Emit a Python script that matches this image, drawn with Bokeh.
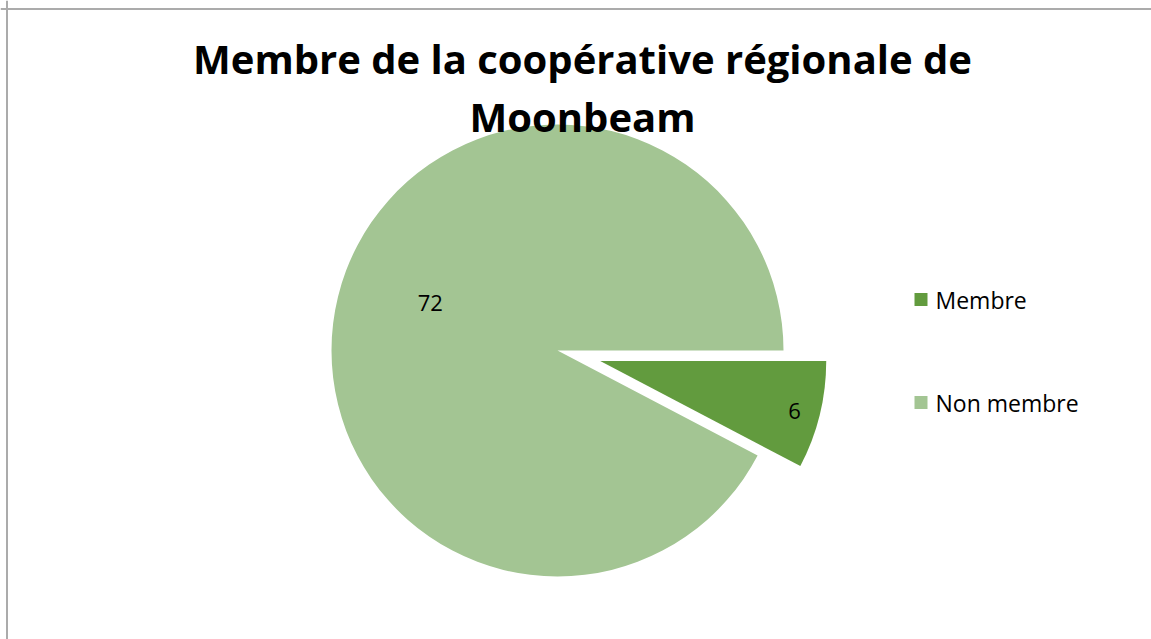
import math
from bokeh.plotting import figure
from bokeh.models import Range1d, Span
from bokeh.core.properties import value
from bokeh.embed import file_html
from bokeh.resources import INLINE

# ---- data ----
title_lines = ["Membre de la coopérative régionale de", "Moonbeam"]
categories = ["Membre", "Non membre"]
values = [6, 72]
colors = ["#629B3E", "#A3C593"]

# ---- layout (figure data units == screen pixels) ----
W, H = 1151, 639
cx, cy, R = 557, 289, 226
explode = [44, 0]
start_deg = 0.0

p = figure(width=W, height=H, output_backend="svg", toolbar_location=None,
           x_range=Range1d(0, W), y_range=Range1d(0, H), min_border=0)
p.axis.visible = False
p.grid.visible = False
p.outline_line_color = None
p.background_fill_color = "white"
p.border_fill_color = "white"

# chart-area border (left and top visible in reference)
p.add_layout(Span(location=6.5, dimension="height", line_color="#ABABAB", line_width=2))
p.add_layout(Span(location=H - 8.5, dimension="width", line_color="#ABABAB", line_width=2))

total = sum(values)
cum = 0.0
label_pos = []
for i, v in enumerate(values):
    s = math.radians(start_deg) - cum / total * 2 * math.pi
    e = math.radians(start_deg) - (cum + v) / total * 2 * math.pi
    mid = (s + e) / 2
    ox = cx + explode[i] * math.cos(mid)
    oy = cy + explode[i] * math.sin(mid)
    p.wedge(x=[ox], y=[oy], radius=R, start_angle=[e], end_angle=[s],
            fill_color=colors[i], line_color=None)
    label_pos.append((ox, oy, mid))
    cum += v

font = value("Open Sans")
# data labels
ox, oy, mid = label_pos[0]
p.text(x=[ox + 0.885 * R * math.cos(mid)], y=[oy + 0.885 * R * math.sin(mid) - 2],
       text=[str(values[0])], text_font=font, text_font_size="22px",
       text_align="center", text_baseline="middle", text_color="black")
la = math.radians(159.8)
p.text(x=[cx + 0.6 * R * math.cos(la)], y=[cy + 0.6 * R * math.sin(la) + 1],
       text=[str(values[1])], text_font=font, text_font_size="22px",
       text_align="center", text_baseline="middle", text_color="black")

# title
p.text(x=[582, 582], y=[581, 523], text=title_lines, text_font=font,
       text_font_style="bold", text_font_size="40px", text_align="center",
       text_baseline="alphabetic", text_color="black")

# legend
leg_y = [340, 237]
p.scatter(x=[920.5, 920.5], y=leg_y, marker="square", size=13,
          fill_color=colors, line_color=None)
p.text(x=[935, 935], y=leg_y, text=categories, text_font=font,
       text_font_size="23px", text_align="left", text_baseline="middle",
       text_color="black")

open("out.html", "w").write(file_html(p, INLINE))
